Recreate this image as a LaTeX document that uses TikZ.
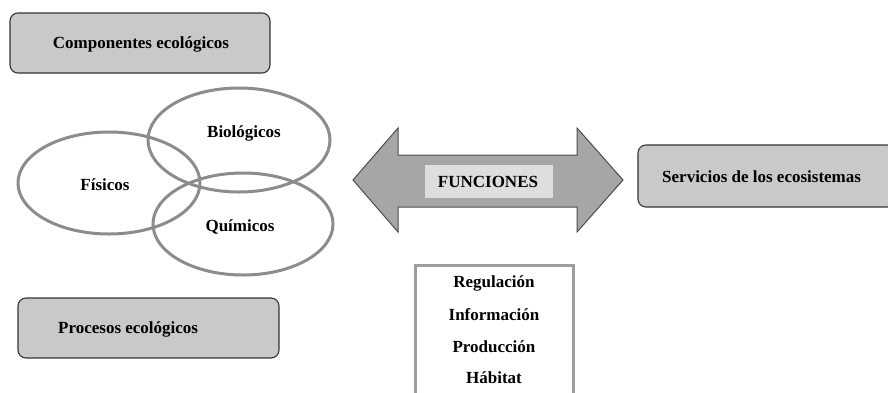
\documentclass[tikz,border=0pt]{standalone}
\usepackage{fontspec}
\setmainfont{Liberation Serif}[BoldFont={Liberation Serif Bold}]
\begin{document}
\begin{tikzpicture}[x=1pt,y=-1pt,
  greybox/.style={draw=black!80,fill=black!21,line width=1.1pt,rounded corners=8pt},
  ring/.style={draw=black!45,line width=3pt},
  lbl/.style={font=\fontsize{17}{19}\selectfont\bfseries,inner sep=0pt},
]
\useasboundingbox (0,0) rectangle (888,392);
% boxes
\draw[greybox] (10,13) rectangle (270,73);
\node[lbl] (comp) at (141,44) {Componentes ecológicos};
\draw[greybox] (18,298) rectangle (279,358);
\node[lbl,anchor=west] (proc) at (58,329) {Procesos ecológicos};
\draw[greybox] (638,145) rectangle (895,207);
\node[lbl,anchor=west] (serv) at (662,177) {Servicios de los ecosistemas};
% ellipses
\draw[ring] (109,183) ellipse [x radius=91,y radius=51];
\draw[ring] (239,140) ellipse [x radius=91,y radius=52];
\draw[ring] (243,224) ellipse [x radius=90,y radius=51];
\node[lbl] (fis) at (105,185) {Físicos};
\node[lbl] (bio) at (244,133) {Biológicos};
\node[lbl] (qui) at (240,227) {Químicos};
% double arrow
\draw[draw=black!70,fill=black!35,line width=1pt,line join=miter]
  (353,180) -- (398,128) -- (398,155) -- (577,155) -- (577,128) -- (623,180)
  -- (577,232) -- (577,207) -- (398,207) -- (398,232) -- cycle;
\fill[black!13] (425,165) rectangle (553,198);
\node[lbl] (fun) at (488,182) {FUNCIONES};
% list box
\draw[draw=black!38,fill=white,line width=3pt] (415,396) -- (415,265) -- (573,265) -- (573,396);
\node[lbl] (reg) at (494,283) {Regulación};
\node[lbl] (inf) at (494,315) {Información};
\node[lbl] (pro) at (494,347) {Producción};
\node[lbl] (hab) at (494,378) {Hábitat};
\end{tikzpicture}
\end{document}
